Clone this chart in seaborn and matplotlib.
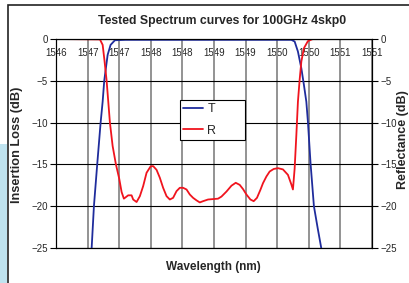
import matplotlib
matplotlib.use("Agg")
import matplotlib.pyplot as plt
import seaborn as sns
from matplotlib.patches import Rectangle

# transmission curve T (wavelength nm, dB)
t_wl = [1546.530, 1546.564, 1546.600, 1546.652, 1546.706, 1546.738, 1546.763,
        1546.817, 1546.864, 1546.932, 1547.100, 1548.000, 1549.000, 1549.724,
        1549.776, 1549.828, 1549.882, 1549.923, 1549.961, 1549.986, 1550.028,
        1550.081, 1550.140, 1550.197, 1550.240]
t_db = [-29.0, -25.0, -20.0, -15.0, -10.0, -7.5, -5.0,
        -1.9, -0.7, -0.15, -0.1, -0.1, -0.1, -0.1,
        -0.3, -1.5, -3.5, -5.5, -7.5, -9.9, -14.9,
        -20.0, -22.6, -25.0, -28.0]

# reflection curve R (wavelength nm, dB)
r_wl = [1546.000, 1546.695, 1546.738, 1546.766, 1546.801, 1546.853, 1546.896,
        1546.948, 1547.000, 1547.038, 1547.074, 1547.142, 1547.196, 1547.221,
        1547.275, 1547.327, 1547.379, 1547.433, 1547.496, 1547.537, 1547.591,
        1547.643, 1547.695, 1547.749, 1547.801, 1547.853, 1547.907, 1547.959,
        1548.011, 1548.065, 1548.117, 1548.169, 1548.223, 1548.275, 1548.327,
        1548.406, 1548.485, 1548.564, 1548.618, 1548.697, 1548.776, 1548.844,
        1548.907, 1548.959, 1549.013, 1549.076, 1549.128, 1549.180, 1549.234,
        1549.275, 1549.329, 1549.381, 1549.444, 1549.512, 1549.591, 1549.670,
        1549.724, 1549.749, 1549.776, 1549.803, 1549.828, 1549.855, 1549.882,
        1549.923, 1549.986, 1550.065, 1551.000]
r_db = [0.0, -0.05, -0.7, -2.5, -5.0, -10.0, -12.8,
        -15.0, -16.7, -18.3, -19.1, -18.7, -18.7, -19.2,
        -19.5, -18.8, -17.6, -16.0, -15.25, -15.2, -15.65,
        -16.6, -17.8, -18.8, -19.2, -19.0, -18.2, -17.8,
        -17.8, -18.0, -18.6, -19.0, -19.3, -19.55, -19.4,
        -19.2, -19.15, -19.1, -18.85, -18.25, -17.55, -17.2,
        -17.45, -17.95, -18.6, -19.2, -19.4, -19.0, -18.05,
        -17.25, -16.45, -15.85, -15.55, -15.45, -15.6, -16.25,
        -17.4, -18.0, -15.5, -11.5, -7.5, -4.9, -2.7,
        -1.1, -0.25, 0.0, 0.0]

x_ticks = [1546.0, 1546.5, 1547.0, 1547.5, 1548.0, 1548.5,
           1549.0, 1549.5, 1550.0, 1550.5, 1551.0]
x_tick_labels = ["1546", "1547", "1547", "1548", "1548", "1549",
                 "1549", "1550", "1550", "1551", "1551"]
y_ticks = [0, -5, -10, -15, -20, -25]

sns.set_style("white")
plt.rcParams["font.family"] = ["Liberation Sans", "DejaVu Sans"]

fig = plt.figure(figsize=(4.1, 2.83), dpi=100)

# chart frame and the light blue strip at the left edge
fig.patches.append(Rectangle((0, 0), 7 / 410, 0.49, transform=fig.transFigure,
                             facecolor="#bfe3ef", edgecolor="none"))
fig.patches.append(Rectangle((8 / 410, -0.1), 1.2, 1.082, transform=fig.transFigure,
                             facecolor="none", edgecolor="#222222", lw=1.2))

ax = fig.add_axes([0.1366, 0.1237, 0.7707, 0.7385])
sns.lineplot(x=t_wl, y=t_db, ax=ax, color="#1f2c9c", lw=1.3, label="T", zorder=3)
sns.lineplot(x=r_wl, y=r_db, ax=ax, color="#f0141e", lw=1.3, label="R", zorder=3)

ax.set_xlim(1546, 1551)
ax.set_ylim(-25, 0)
ax.set_xticks(x_ticks)
ax.set_yticks(y_ticks)
ax.set_axisbelow(True)
ax.grid(axis="x", color="#8a8a8a", lw=1.3)
ax.grid(axis="y", color="black", lw=0.8)
ax.tick_params(axis="x", length=0, labelbottom=False)
ax.tick_params(axis="y", direction="out", length=4, width=0.8, pad=2,
               labelsize=7, left=True, color="black")
for s in ax.spines.values():
    s.set_color("black")
    s.set_linewidth(0.8)

# wavelength labels sit just under the 0 dB line, crossed by the grid
for xv, lab in zip(x_ticks, x_tick_labels):
    ax.text(xv, -1.67, lab, ha="center", va="center", fontsize=7, zorder=0.2)

ax2 = ax.twinx()
ax2.set_ylim(-25, 0)
ax2.set_yticks(y_ticks)
ax2.grid(False)
ax2.tick_params(axis="y", direction="out", length=4, width=0.8, pad=2,
                labelsize=7, right=True, color="black")
for s in ax2.spines.values():
    s.set_color("black")
    s.set_linewidth(0.8)

ax.set_xlabel("")
ax.set_ylabel("")
leg = ax.legend(loc="upper left", bbox_to_anchor=(0.392, 0.517, 0.206, 0.191),
                mode="expand", frameon=True, fancybox=False, edgecolor="black",
                framealpha=1, fontsize=9, handlelength=1.6, borderpad=0.25,
                labelspacing=0.75, handletextpad=0.35, borderaxespad=0)
leg.get_frame().set_linewidth(0.8)

fig.text(222 / 410, 1 - 21 / 283, "Tested Spectrum curves for 100GHz 4skp0",
         ha="center", va="center", fontsize=8.8, fontweight="bold")
fig.text(213 / 410, 1 - 267 / 283, "Wavelength (nm)", ha="center", va="center",
         fontsize=8.5, fontweight="bold")
fig.text(17 / 410, 1 - 145 / 283, "Insertion Loss (dB)", ha="center", va="center",
         rotation=90, fontsize=9.2, fontweight="bold")
fig.text(403.5 / 410, 1 - 140 / 283, "Reflectance (dB)", ha="center", va="center",
         rotation=90, fontsize=9, fontweight="bold")

fig.savefig("out.png", dpi=100)
